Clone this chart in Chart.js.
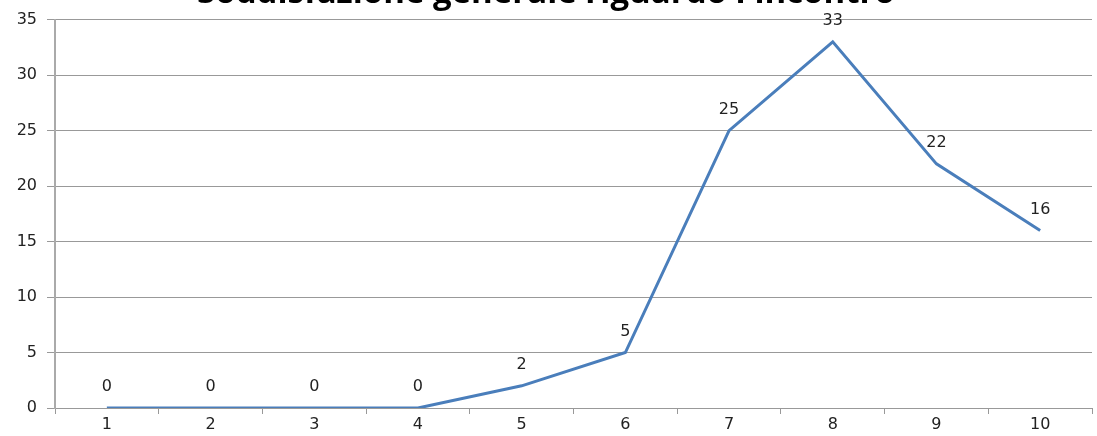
<!DOCTYPE html>
<html>
<head>
<meta charset="utf-8">
<script src="https://cdn.jsdelivr.net/npm/chart.js@4.4.0/dist/chart.umd.min.js"></script>
<style>
  html, body { margin: 0; padding: 0; background: #fff; overflow: hidden; }
  #wrap { position: absolute; left: 0; top: -26px; width: 1097px; height: 462px; }
</style>
</head>
<body>
<div id="wrap"><canvas id="LineChart"></canvas></div>
<script>
const chartTitle = "Soddisfazione generale riguardo l'incontro";
const categories = ['1', '2', '3', '4', '5', '6', '7', '8', '9', '10'];
const values = [0, 0, 0, 0, 2, 5, 25, 33, 22, 16];
const yTicks = [0, 5, 10, 15, 20, 25, 30, 35];

// draws the value above each point
const valueLabels = {
    id: 'valueLabels',
    afterDatasetsDraw(chart) {
        const ctx = chart.ctx;
        const meta = chart.getDatasetMeta(0);
        ctx.save();
        ctx.font = '16px "DejaVu Sans"';
        ctx.fillStyle = '#222';
        ctx.textAlign = 'center';
        ctx.textBaseline = 'middle';
        meta.data.forEach(function (pt, i) {
            ctx.fillText(String(values[i]), pt.x, pt.y - 21);
        });
        ctx.restore();
    }
};

const ctx = document.getElementById('LineChart').getContext('2d');
new Chart(ctx, {
    type: 'line',
    data: {
        labels: categories,
        datasets: [{
            data: values,
            borderColor: '#4a7ebb',
            borderWidth: 3,
            pointRadius: 0,
            tension: 0,
            fill: false
        }]
    },
    options: {
        responsive: true,
        maintainAspectRatio: false,
        animation: false,
        layout: { padding: { left: 0, right: 5, top: 0, bottom: 0 } },
        plugins: {
            legend: { display: false },
            tooltip: { enabled: false },
            title: {
                display: true,
                text: chartTitle,
                color: '#000',
                font: { family: '"Open Sans"', size: 33, weight: 'bold', lineHeight: 1.2 },
                padding: { top: 0, bottom: 6 }
            }
        },
        scales: {
            x: {
                offset: true,
                grid: { offset: true, drawOnChartArea: false, drawTicks: true, tickLength: 6, color: '#999' },
                border: { color: '#999', width: 1 },
                ticks: { color: '#222', font: { family: '"DejaVu Sans"', size: 16 }, padding: 1 },
                afterFit(axis) { axis.height = 28; }
            },
            y: {
                min: 0,
                max: 35,
                afterBuildTicks(axis) { axis.ticks = yTicks.map(v => ({ value: v })); },
                grid: { color: '#999', tickLength: 8 },
                border: { color: '#aaa', width: 2 },
                ticks: { color: '#222', font: { family: '"DejaVu Sans"', size: 16 }, padding: 10 },
                afterFit(axis) { axis.width = 55; }
            }
        }
    },
    plugins: [valueLabels]
});
</script>
</body>
</html>
